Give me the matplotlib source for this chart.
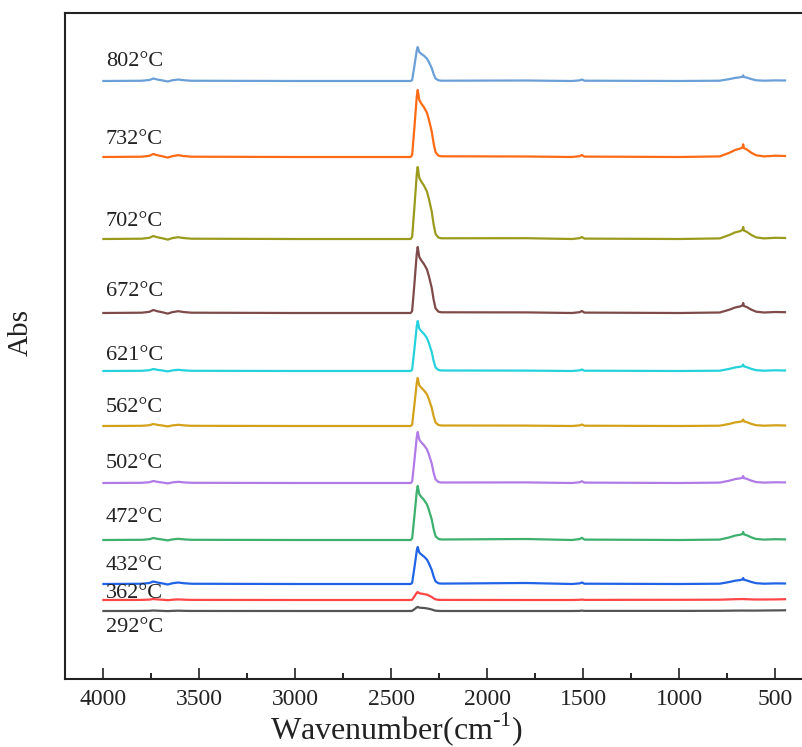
import matplotlib
matplotlib.use('Agg')
import matplotlib.pyplot as plt
from matplotlib.ticker import MultipleLocator
import numpy as np

plt.rcParams['font.family'] = 'Liberation Serif'
plt.rcParams['mathtext.fontset'] = 'custom'
plt.rcParams['mathtext.rm'] = 'Liberation Serif'

# wavenumber grid (cm-1) shared by all spectra
wavenumber = [4000, 3800, 3760, 3740, 3720, 3690, 3665, 3640, 3610, 3580, 3540, 3000,
              2400, 2392, 2380, 2368, 2363, 2355, 2345, 2330, 2315, 2305, 2290, 2280,
              2270, 2255, 2240, 1800, 1560, 1520, 1508, 1495, 1000, 790, 740, 710, 685,
              672, 668, 664, 650, 625, 600, 560, 500, 450]

# absorbance (a.u.) for each temperature
abs_802 = [0, 0.25, 1.0, 2.5, 1.5, 0.5, -0.5, 0.75, 1.5, 0.75, 0.25, 0,
           0, 1.0, 15.3, 30.6, 34, 28.9, 27.2, 25.2, 22.4, 19.0, 12.9, 6.8,
           2.4, 0.7, 0.3, 0.5, 0, 0.6, 1.5, 0.3, 0, 0.3, 1.9, 3.1, 3.7,
           4.3, 5.7, 4.0, 3.4, 1.9, 0.7, 0.3, 0.6, 0.5]
abs_732 = [0, 0.3, 1.2, 3, 1.8, 0.6, -0.6, 0.9, 1.8, 0.9, 0.3, 0,
           0, 2.0, 30.2, 60.3, 67, 57.0, 53.6, 49.6, 44.2, 37.5, 25.5, 13.4,
           4.7, 1.3, 0.7, 0.5, 0, 0.8, 2, 0.4, 0, 0.6, 4.2, 7.0, 8.3,
           9.5, 12.7, 8.9, 7.6, 4.2, 1.7, 0.6, 1.3, 1.0]
abs_702 = [0, 0.3, 1.2, 3, 1.8, 0.6, -0.6, 0.9, 1.8, 0.9, 0.3, 0,
           0, 2.2, 32.4, 64.8, 72, 61.2, 57.6, 53.3, 47.5, 40.3, 27.4, 14.4,
           5.0, 1.4, 0.7, 0.8, 0, 0.8, 2, 0.4, 0, 0.6, 4.0, 6.6, 7.8,
           9.0, 12, 8.4, 7.2, 4.0, 1.6, 0.6, 1.2, 1.0]
abs_672 = [0, 0.3, 1.2, 3, 1.8, 0.6, -0.6, 0.9, 1.8, 0.9, 0.3, 0,
           0, 2.0, 29.7, 59.4, 66, 56.1, 52.8, 48.8, 43.6, 37.0, 25.1, 13.2,
           4.6, 1.3, 0.7, 0.6, 0, 0.8, 2, 0.4, 0, 0.5, 3.3, 5.5, 6.5,
           7.5, 10, 7.0, 6.0, 3.3, 1.3, 0.5, 1.0, 0.8]
abs_621 = [0, 0.2, 0.8, 2, 1.2, 0.4, -0.4, 0.6, 1.2, 0.6, 0.2, 0,
           0, 1.5, 22.5, 45.0, 50, 42.5, 40.0, 37.0, 33.0, 28.0, 19.0, 10.0,
           3.5, 1.0, 0.5, 0.4, 0, 0.6, 1.5, 0.3, 0, 0.3, 2.1, 3.6, 4.2,
           4.9, 6.5, 4.6, 3.9, 2.1, 0.8, 0.3, 0.7, 0.5]
abs_562 = [0, 0.2, 0.8, 2, 1.2, 0.4, -0.4, 0.6, 1.2, 0.6, 0.2, 0,
           0, 1.4, 21.6, 43.2, 48, 40.8, 38.4, 35.5, 31.7, 26.9, 18.2, 9.6,
           3.4, 1.0, 0.5, 0.4, 0, 0.6, 1.5, 0.3, 0, 0.3, 2.1, 3.6, 4.2,
           4.9, 6.5, 4.6, 3.9, 2.1, 0.8, 0.3, 0.7, 0.5]
abs_502 = [0, 0.2, 0.8, 2, 1.2, 0.4, -0.4, 0.6, 1.2, 0.6, 0.2, 0,
           0, 1.5, 23.0, 45.9, 51, 43.4, 40.8, 37.7, 33.7, 28.6, 19.4, 10.2,
           3.6, 1.0, 0.5, 0.6, 0, 0.7, 1.8, 0.4, 0, 0.4, 2.3, 3.9, 4.6,
           5.3, 7.0, 4.9, 4.2, 2.3, 0.9, 0.4, 0.7, 0.6]
abs_472 = [0, 0.2, 0.8, 2, 1.2, 0.4, -0.4, 0.6, 1.2, 0.6, 0.2, 0,
           0, 1.6, 24.3, 48.6, 54, 45.9, 43.2, 40.0, 35.6, 30.2, 20.5, 10.8,
           3.8, 1.1, 0.5, 1.0, 0, 0.9, 2.2, 0.4, 0, 0.4, 2.6, 4.4, 5.2,
           6.0, 8.0, 5.6, 4.8, 2.6, 1.0, 0.4, 0.8, 0.6]
abs_432 = [0, 0.25, 1.0, 2.5, 1.5, 0.5, -0.5, 0.75, 1.5, 0.75, 0.25, 0,
           0, 1.1, 16.7, 33.3, 37, 31.5, 29.6, 27.4, 24.4, 20.7, 14.1, 7.4,
           2.6, 0.7, 0.4, 1.0, 0, 0.6, 1.5, 0.3, 0, 0.3, 2.0, 3.3, 3.9,
           4.5, 6.0, 4.2, 3.6, 2.0, 0.8, 0.3, 0.6, 0.5]
abs_362 = [0, 0.1, 0.4, 1.0, 0.6, 0.2, -0.2, 0.3, 0.6, 0.3, 0.1, 0,
           0, 0.3, 3.6, 7.2, 8, 6.8, 6.4, 5.9, 5.3, 4.5, 3.0, 1.6,
           0.6, 0.2, 0.1, 0, 0, 0.2, 0.5, 0.1, 0.2, 0.3, 0.6, 0.8, 0.9,
           0.9, 1.0, 0.9, 0.8, 0.6, 0.5, 0.5, 0.6, 0.8]
abs_292 = [0, 0.05, 0.2, 0.5, 0.3, 0.1, -0.1, 0.15, 0.3, 0.15, 0.05, 0,
           0, 0.2, 1.8, 3.6, 4, 3.4, 3.2, 3.0, 2.6, 2.2, 1.5, 0.8,
           0.3, 0.1, 0, 0, 0, 0.1, 0.4, 0.1, 0.1, 0.2, 0.3, 0.4, 0.4,
           0.4, 0.5, 0.4, 0.4, 0.4, 0.4, 0.5, 0.6, 0.7]

labels = ['802°C', '732°C', '702°C', '672°C', '621°C', '562°C',
          '502°C', '472°C', '432°C', '362°C', '292°C']
spectra = [abs_802, abs_732, abs_702, abs_672, abs_621, abs_562,
           abs_502, abs_472, abs_432, abs_362, abs_292]
# vertical stacking offsets and label heights
offsets = [598, 522, 440, 366, 308, 253, 196, 139, 95, 79, 68]
label_y = [618, 540, 458, 387, 324, 272, 216, 161, 113, 86, 51]
colors = ['#6a9fd8', '#ff6a14', '#9a9a1c', '#7e4a4a', '#25d2dc', '#d4a21a',
          '#b07be6', '#3cb06c', '#2063e6', '#ff4646', '#555555']

fig = plt.figure(figsize=(8.03, 7.47), dpi=100)
ax = fig.add_axes([65 / 803, 68 / 747, 745 / 803, 666 / 747])

wn = np.array(wavenumber)
for lab, spec, off, ly, c in zip(labels, spectra, offsets, label_y, colors):
    ax.plot(wn, np.array(spec) + off, color=c, lw=1.6)
    ax.text(3988, ly, lab, fontsize=16, ha='left', va='center', color='#222222')

ax.set_xlim(4200, 320)
ax.set_ylim(0, 666)
ax.xaxis.set_major_locator(MultipleLocator(500))
ax.xaxis.set_minor_locator(MultipleLocator(250))
ax.set_yticks([])
ax.tick_params(axis='x', which='major', direction='in', length=8, width=1.2,
               labelsize=17, pad=7, colors='#222222')
ax.tick_params(axis='x', which='minor', direction='in', length=4.5, width=1.2)
for s in ax.spines.values():
    s.set_linewidth(1.5)
    s.set_color('#222222')

ax.set_xlabel(r'Wavenumber(cm$^{\text{-1}}$)', fontsize=23, va='baseline',
              color='#222222')
ax.xaxis.set_label_coords((397 - 65) / 745, -0.09)
ax.set_ylabel('Abs', fontsize=21, va='center', color='#222222')
ax.yaxis.set_label_coords(-0.06, 0.52)

plt.savefig('out.png', dpi=100)
